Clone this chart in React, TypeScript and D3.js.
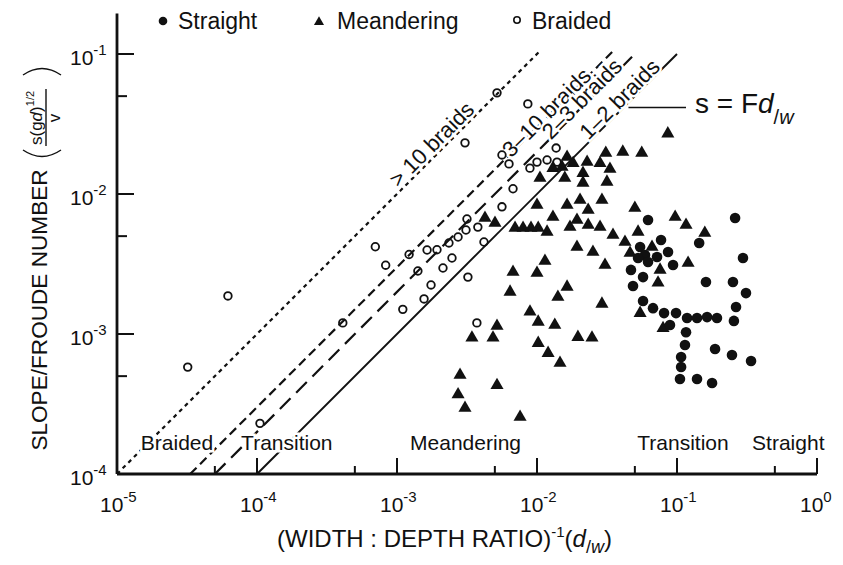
import React from "react";
import { scaleLog, line, symbol, symbolTriangle } from "d3";

// (d/w, slope/Froude) pairs
const straight: [number, number][] = [
  [6.21e-2, 6.52e-3], [2.6e-1, 6.74e-3], [7.69e-2, 4.69e-3], [8.63e-2, 3.85e-3],
  [1.44e-1, 4.47e-3], [5.45e-2, 4.18e-3], [5.91e-2, 3.67e-3], [7.2e-2, 3.55e-3],
  [5.27e-2, 3.49e-3], [6.21e-2, 3.27e-3], [9.37e-2, 3.11e-3], [4.69e-2, 2.87e-3],
  [5.72e-2, 2.55e-3], [4.85e-2, 2.2e-3], [2.96e-1, 3.49e-3], [1.61e-1, 2.35e-3],
  [2.51e-1, 2.35e-3], [3.11e-1, 1.96e-3], [2.64e-1, 1.56e-3], [5.72e-2, 1.72e-3],
  [6.74e-2, 1.53e-3], [8.08e-2, 1.41e-3], [9.84e-2, 1.41e-3], [1.18e-1, 1.3e-3],
  [1.39e-1, 1.3e-3], [1.64e-1, 1.32e-3], [1.93e-1, 1.3e-3], [2.55e-1, 1.24e-3],
  [8.91e-2, 1.16e-3], [1.16e-1, 1.03e-3], [1.14e-1, 8.35e-4], [1.87e-1, 7.82e-4],
  [2.47e-1, 7.08e-4], [3.38e-1, 6.42e-4], [1.07e-1, 6.85e-4], [1.07e-1, 5.81e-4],
  [1.05e-1, 4.77e-4], [1.39e-1, 4.77e-4], [1.78e-1, 4.47e-4],
];

const meandering: [number, number][] = [
  [8.6e-2, 2.7e-2], [3.1e-2, 1.96e-2], [4.1e-2, 2.0e-2], [5.6e-2, 1.96e-2],
  [1.64e-2, 1.84e-2], [1.81e-2, 1.66e-2], [2.28e-2, 1.69e-2], [2.82e-2, 1.66e-2],
  [3.32e-2, 1.51e-2], [1.3e-2, 1.53e-2], [1.51e-2, 1.56e-2], [1.58e-2, 1.3e-2],
  [2.13e-2, 1.41e-2], [2.13e-2, 1.2e-2], [1.05e-2, 1.3e-2], [3.16e-2, 1.22e-2],
  [1.0e-2, 8.35e-3], [1.64e-2, 8.35e-3], [2.03e-2, 9.06e-3], [2.32e-2, 7.69e-3],
  [2.91e-2, 9.06e-3], [5.0e-2, 7.95e-3], [1.3e-2, 6.85e-3], [1.93e-2, 6.52e-3],
  [1.72e-2, 5.81e-3], [2.32e-2, 6.0e-3], [2.82e-2, 5.81e-3], [3.49e-2, 5.1e-3],
  [4.25e-3, 6.74e-3], [5.01e-3, 6.21e-3], [6.97e-3, 5.72e-3], [7.95e-3, 5.72e-3],
  [9.06e-3, 5.72e-3], [1.02e-2, 5.72e-3], [1.18e-2, 5.36e-3], [1.93e-2, 4.18e-3],
  [2.51e-2, 3.85e-3], [3.06e-2, 3.11e-3], [4.25e-2, 4.54e-3], [5.27e-2, 5.36e-3],
  [1.14e-2, 3.32e-3], [6.74e-3, 2.77e-3], [1.0e-2, 2.73e-3], [6.42e-3, 2.0e-3],
  [1.64e-2, 2.17e-3], [1.41e-2, 1.84e-3], [2.91e-2, 1.64e-3], [8.91e-3, 1.44e-3],
  [1.02e-2, 1.22e-3], [1.34e-2, 1.16e-3], [1.96e-2, 9.5e-4], [2.47e-2, 9.4e-4],
  [1.02e-2, 8.6e-4], [1.2e-2, 7.3e-4], [1.46e-2, 6.2e-4], [5.18e-3, 1.14e-3],
  [4.85e-3, 9.4e-4], [3.43e-3, 9.4e-4], [2.82e-3, 5.1e-4], [5.18e-3, 4.3e-4],
  [2.73e-3, 3.7e-4], [3.06e-3, 2.96e-4], [7.57e-3, 2.55e-4], [9.7e-2, 6.85e-3],
  [1.16e-1, 6.0e-3], [1.58e-1, 5.27e-3], [1.2e-1, 3.21e-3], [4.62e-2, 3.79e-3],
  [6.63e-2, 4.18e-3], [7.57e-2, 2.87e-3], [7.32e-2, 2.32e-3], [5.45e-2, 1.41e-3],
  [7.95e-2, 1.1e-3],
];

const braided: [number, number][] = [
  [3.2e-5, 5.8e-4], [6.2e-5, 1.87e-3], [1.05e-4, 2.3e-4], [4.1e-4, 1.2e-3],
  [7.0e-4, 4.2e-3], [8.3e-4, 3.1e-3], [1.22e-3, 3.7e-3], [1.1e-3, 1.5e-3],
  [1.41e-3, 2.82e-3], [1.56e-3, 1.78e-3], [1.64e-3, 3.98e-3], [1.75e-3, 2.24e-3],
  [1.93e-3, 4.0e-3], [2.13e-3, 2.96e-3], [2.35e-3, 4.47e-3], [2.47e-3, 3.49e-3],
  [2.73e-3, 4.93e-3], [3.11e-3, 5.53e-3], [3.16e-3, 6.63e-3], [3.21e-3, 2.55e-3],
  [3.72e-3, 1.2e-3], [3.78e-3, 5.8e-3], [4.18e-3, 4.54e-3], [5.62e-3, 8.1e-3],
  [6.74e-3, 1.09e-2], [6.31e-3, 1.64e-2], [5.62e-3, 1.9e-2], [3.06e-3, 2.32e-2],
  [5.18e-3, 5.28e-2], [8.6e-3, 4.4e-2], [8.9e-3, 1.53e-2], [1.0e-2, 1.69e-2],
  [1.18e-2, 1.75e-2], [1.37e-2, 2.13e-2], [1.39e-2, 1.69e-2],
];

// s = F d/w boundary lines
const braidLabels = ["> 10 braids", "3–10 braids", "2–3 braids", "1–2 braids"];
const froudeF = [10, 3, 2, 1];
const lineRange: [number, number][] = [
  [1e-5, 1.03e-2], [3.33e-5, 3.44e-2], [5e-5, 5e-2], [1e-4, 1e-1],
];

const xTicks = [1e-5, 1e-4, 1e-3, 1e-2, 1e-1, 1];
const xTickExp = ["-5", "-4", "-3", "-2", "-1", "0"];
const xMinor = [5e-5, 5e-4, 5e-3, 5e-2, 5e-1];
const yTicks = [1e-4, 1e-3, 1e-2, 1e-1];
const yTickExp = ["-4", "-3", "-2", "-1"];
const yMinor = [5e-4, 5e-3, 5e-2];

const regions = ["Braided", "Transition", "Meandering", "Transition", "Straight"];
const regionStart = [1.48e-5, 7.7e-5, 1.24e-3, 5.2e-2, 0.344];

const FONT = "'Liberation Sans', Arial, Helvetica, sans-serif";
const INK = "#111";

export default function App() {
  const x = scaleLog().domain([1e-5, 1]).range([117, 817]);
  const y = scaleLog().domain([1e-4, 1e-1]).range([474, 54]);
  const tri = symbol(symbolTriangle, 74)();
  const triSmall = symbol(symbolTriangle, 44)();
  const lineGen = line<[number, number]>()
    .x((d) => x(d[0]))
    .y((d) => y(d[1]));

  // styles for each braid line, in order of braidLabels
  const dashes = ["4,4", "9,5", "15,8", null];
  const labelAt = [2.0e-3, 1.22e-2, 2.24e-2, 4.3e-2];
  const labelOffset = [9, 2, 4, 7];

  const halo = { stroke: "#fff", strokeWidth: 5, paintOrder: "stroke" as const };

  const leaderAt = 0.045;

  return (
    <div style={{ position: "absolute", left: 0, top: 0 }}>
      <svg width={843} height={565} style={{ display: "block", background: "#fff" }}>
        {/* boundary lines */}
        {froudeF.map((F, i) => (
          <path
            key={"l" + i}
            d={lineGen([
              [lineRange[i][0], lineRange[i][0] * F],
              [lineRange[i][1], lineRange[i][1] * F],
            ]) || ""}
            fill="none"
            stroke={INK}
            strokeWidth={i === 3 ? 1.9 : 2.2}
            strokeDasharray={dashes[i] || undefined}
          />
        ))}

        {/* region labels along the bottom */}
        {regions.map((r, i) => (
          <text
            key={"r" + i}
            x={x(regionStart[i])}
            y={450}
            fontFamily={FONT}
            fontSize={21}
            fill={INK}
            {...halo}
          >
            {r}
          </text>
        ))}

        {/* braid line labels */}
        {braidLabels.map((lab, i) => {
          const px = x(labelAt[i]);
          const py = y(labelAt[i] * froudeF[i]);
          const o = labelOffset[i] / Math.SQRT2;
          return (
            <text
              key={"b" + i}
              transform={`translate(${px - o},${py - o}) rotate(-45)`}
              textAnchor="middle"
              dominantBaseline="middle"
              fontFamily={FONT}
              fontSize={22}
              fill={INK}
              {...halo}
            >
              {lab}
            </text>
          );
        })}

        {/* s = F d/w annotation */}
        <line
          x1={x(leaderAt)}
          y1={y(leaderAt * froudeF[3]) + 5}
          x2={686}
          y2={y(leaderAt * froudeF[3]) + 5}
          stroke={INK}
          strokeWidth={1.6}
        />
        <text x={695} y={113} fontFamily={FONT} fontSize={28} fill={INK}>
          s = F<tspan fontStyle="italic">d</tspan>
          <tspan fontSize={20} dy={11}>/</tspan>
          <tspan fontSize={20} fontStyle="italic">w</tspan>
        </text>

        {/* data points */}
        {braided.map((d, i) => (
          <circle
            key={"o" + i}
            cx={x(d[0])}
            cy={y(d[1])}
            r={3.8}
            fill="none"
            stroke={INK}
            strokeWidth={1.8}
          />
        ))}
        {meandering.map((d, i) => (
          <path
            key={"t" + i}
            d={tri || ""}
            transform={`translate(${x(d[0])},${y(d[1])})`}
            fill={INK}
          />
        ))}
        {straight.map((d, i) => (
          <circle key={"s" + i} cx={x(d[0])} cy={y(d[1])} r={5.3} fill={INK} />
        ))}

        {/* legend */}
        <g fontFamily={FONT} fontSize={23} fill={INK}>
          <circle cx={163} cy={21} r={4.3} fill={INK} />
          <text x={178} y={29}>Straight</text>
          <path d={triSmall || ""} transform="translate(319,22)" fill={INK} />
          <text x={337} y={29}>Meandering</text>
          <circle cx={517} cy={20} r={3.2} fill="none" stroke={INK} strokeWidth={1.6} />
          <text x={532} y={29}>Braided</text>
        </g>

        {/* axes */}
        <line x1={117} y1={y(1e-4)} x2={x(1)} y2={y(1e-4)} stroke={INK} strokeWidth={2.8} />
        <line x1={117} y1={y(1e-4)} x2={117} y2={y(0.195)} stroke={INK} strokeWidth={2.8} />
        {xTicks.map((t, i) => (
          <g key={"xt" + i}>
            <line x1={x(t)} x2={x(t)} y1={y(1e-4)} y2={y(1e-4) - 16} stroke={INK} strokeWidth={2} />
            <text x={x(t) - 17} y={512} fontFamily={FONT} fontSize={21} fill={INK}>
              10<tspan fontSize={15} dy={-10}>{xTickExp[i]}</tspan>
            </text>
          </g>
        ))}
        {xMinor.map((t, i) => (
          <line key={"xm" + i} x1={x(t)} x2={x(t)} y1={y(1e-4)} y2={y(1e-4) - 8} stroke={INK} strokeWidth={2} />
        ))}
        {yTicks.map((t, i) => (
          <g key={"yt" + i}>
            <line x1={117} x2={134} y1={y(t)} y2={y(t)} stroke={INK} strokeWidth={2} />
            <text x={70} y={y(t) + 11} fontFamily={FONT} fontSize={21} fill={INK}>
              10<tspan fontSize={15} dy={-10}>{yTickExp[i]}</tspan>
            </text>
          </g>
        ))}
        {yMinor.map((t, i) => (
          <line key={"ym" + i} x1={117} x2={127} y1={y(t)} y2={y(t)} stroke={INK} strokeWidth={2} />
        ))}

        {/* x title */}
        <text x={277} y={547} fontFamily={FONT} fontSize={24} fill={INK}>
          (WIDTH : DEPTH RATIO)
          <tspan fontSize={15} dy={-10}>-1</tspan>
          <tspan dy={10}>(</tspan>
          <tspan fontStyle="italic">d</tspan>
          <tspan fontSize={18} dy={6}>/</tspan>
          <tspan fontSize={18} fontStyle="italic">w</tspan>
          <tspan dy={-6}>)</tspan>
        </text>

        {/* y title */}
        <g transform="rotate(-90)" fontFamily={FONT} fill={INK}>
          <text x={-310} y={47} textAnchor="middle" fontSize={22.6}>
            SLOPE/FROUDE NUMBER
          </text>
          <path d="M -150 23 Q -163 42 -150 61" fill="none" stroke={INK} strokeWidth={1.4} />
          <text x={-145} y={42} fontSize={17}>
            s(g<tspan fontStyle="italic">d</tspan>)
            <tspan fontSize={11} dy={-8}>1/2</tspan>
          </text>
          <line x1={-146} x2={-89} y1={46} y2={46} stroke={INK} strokeWidth={1.4} />
          <text x={-118} y={60} textAnchor="middle" fontSize={17}>v</text>
          <path d="M -75 23 Q -62 42 -75 61" fill="none" stroke={INK} strokeWidth={1.4} />
        </g>
      </svg>
    </div>
  );
}
